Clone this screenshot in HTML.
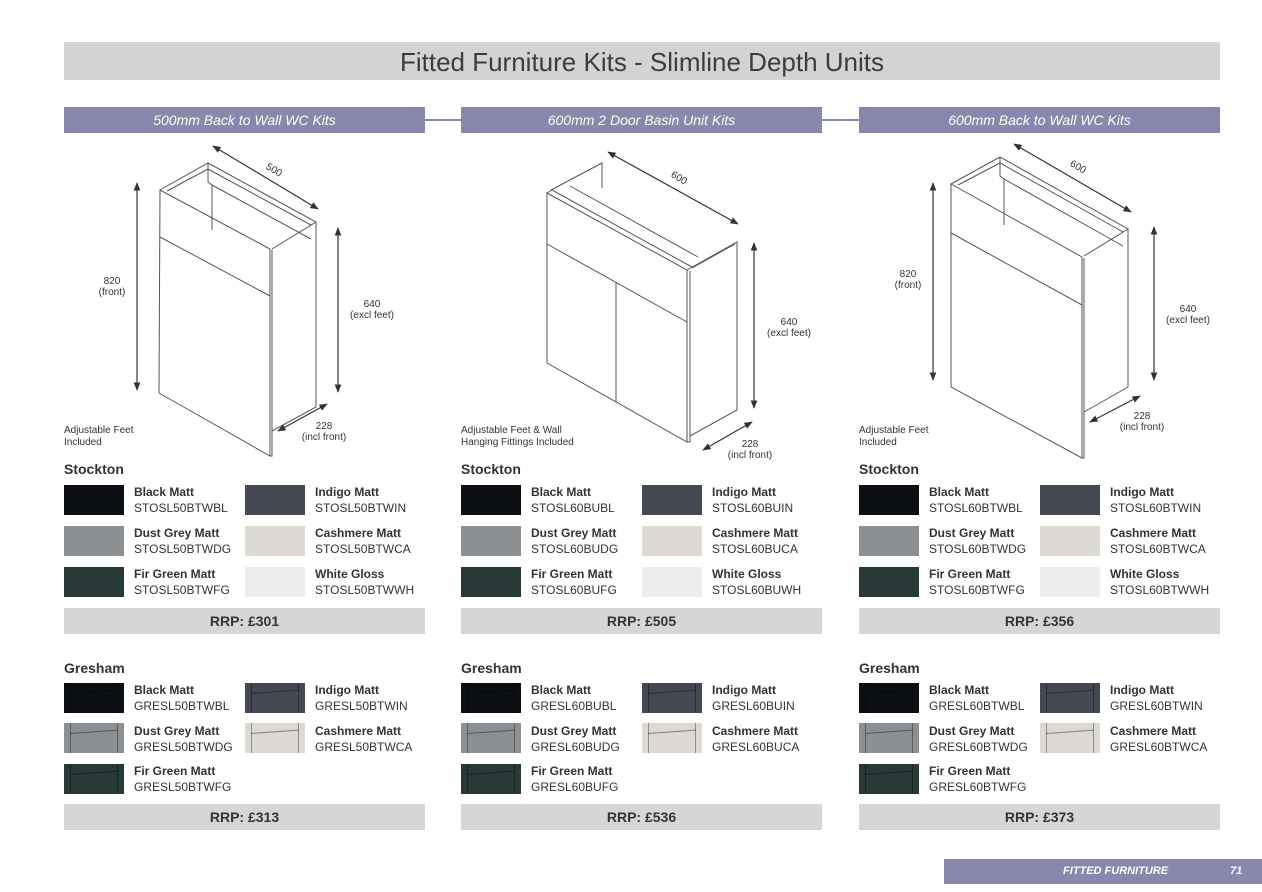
<!DOCTYPE html>
<html><head><meta charset="utf-8">
<style>
*{margin:0;padding:0;box-sizing:border-box}
body{width:1262px;height:892px;background:#fff;position:relative;overflow:hidden;font-family:"Liberation Sans",Arial,sans-serif;color:#333}
.abs{position:absolute}
.title{left:64px;top:42px;width:1156px;height:38px;background:#d2d3d5;font-size:26px;color:#3c3c3c;text-align:center;line-height:40px}
.hdr{top:107px;width:361px;height:26px;background:#8788ab;color:#fff;font-style:italic;font-size:14px;text-align:center;line-height:27px}
.conn{top:119px;height:2px;background:#8788ab}
.sec{font-weight:bold;font-size:14px;color:#333}
.sw{width:60px;height:30px;overflow:hidden}
.nm{font-size:12px;line-height:16px;color:#333;white-space:nowrap}
.nm b{display:block}
.rrp{width:361px;height:26px;background:#d5d6d8;font-weight:bold;font-size:14px;text-align:center;line-height:26px;color:#333}
.note{font-size:10px;line-height:12px;color:#333;white-space:nowrap}
.dim{font-size:10px;line-height:11px;text-align:center;color:#333;white-space:nowrap}
.gr:before{content:"";position:absolute;left:6px;top:0;width:1px;height:30px;background:rgba(0,0,0,.35)}
.gr:after{content:"";position:absolute;left:6px;top:10px;width:48px;height:1px;background:rgba(0,0,0,.4);transform:rotate(-4deg);transform-origin:0 0}
.gr i{position:absolute;right:6px;top:0;width:1px;height:30px;background:rgba(0,0,0,.35)}
.foot{left:944px;top:859px;width:318px;height:25px;background:#8788ab;color:#fff;font-style:italic;font-weight:bold;font-size:11px;line-height:25px}
</style></head><body>

<div class="abs title">Fitted Furniture Kits - Slimline Depth Units</div>

<div class="abs hdr" style="left:64px">500mm Back to Wall WC Kits</div>
<div class="abs hdr" style="left:461px">600mm 2 Door Basin Unit Kits</div>
<div class="abs hdr" style="left:859px">600mm Back to Wall WC Kits</div>
<div class="abs conn" style="left:425px;width:36px"></div>
<div class="abs conn" style="left:822px;width:37px"></div>

<svg class="abs" style="left:0;top:0" width="1262" height="892" viewBox="0 0 1262 892">
<defs>
<marker id="ah" viewBox="0 0 10 10" refX="9" refY="5" markerWidth="7" markerHeight="7" orient="auto-start-reverse"><path d="M0,1 L10,5 L0,9 z" fill="#333"/></marker>
</defs>
<g fill="none" stroke="#555" stroke-width="1">
<path d="M160,190 L270,249 L270,456 L159,393 Z"/>
<path d="M272,250 L272,456 L270,456"/>
<path d="M160,237 L270,296"/>
<path d="M160,190 L208,163 L316,222 L272,249"/>
<path d="M167,191 L208,169 L311,225"/>
<path d="M208,163 L208,182 L212,185 L212,230"/>
<path d="M212,185 L311,239"/>
<path d="M316,222 L316,407 L272,431"/>
<path d="M951,184 L1082,257 L1082,458 L951,387 Z"/>
<path d="M1084,258 L1084,458 L1082,458"/>
<path d="M951,233 L1082,305"/>
<path d="M951,184 L1000,157 L1128,229 L1084,256"/>
<path d="M958,185 L1000,163 L1123,232"/>
<path d="M1000,157 L1000,176 L1004,179 L1004,225"/>
<path d="M1004,179 L1123,246"/>
<path d="M1128,229 L1128,387 L1084,412"/>
<path d="M547,193 L687,270 L687,442 L547,363 Z"/>
<path d="M690,271 L690,442 L687,442"/>
<path d="M547,244 L687,322"/>
<path d="M616,283 L616,402"/>
<path d="M547,193 L552,190 L692,267"/>
<path d="M551,190 L602,163 L602,188"/>
<path d="M570,186 L698,257"/>
<path d="M687,270 L737,242 L737,410 L690,436"/>
<path d="M692,268 L735,244"/>
</g>
<g stroke="#333" stroke-width="1.2" marker-start="url(#ah)" marker-end="url(#ah)" fill="none">
<line x1="137" y1="183" x2="137" y2="390"/>
<line x1="338" y1="228" x2="338" y2="392"/>
<line x1="213" y1="146" x2="318" y2="209"/>
<line x1="278" y1="431" x2="327" y2="404"/>
<line x1="933" y1="183" x2="933" y2="380"/>
<line x1="1154" y1="227" x2="1154" y2="380"/>
<line x1="1014" y1="144" x2="1131" y2="212"/>
<line x1="1090" y1="422" x2="1140" y2="396"/>
<line x1="608" y1="152" x2="738" y2="224"/>
<line x1="754" y1="243" x2="754" y2="408"/>
<line x1="703" y1="450" x2="752" y2="422"/>
</g>
<g font-family="Liberation Sans, Arial, sans-serif" font-size="10" fill="#333" text-anchor="middle">
<text x="274" y="173" transform="rotate(30 274 170)">500</text>
<text x="679" y="181" transform="rotate(30 679 178)">600</text>
<text x="1078" y="170" transform="rotate(30 1078 167)">600</text>
</g>
</svg>

<div class="abs dim" style="left:82px;top:276px;width:60px">820<br>(front)</div>
<div class="abs dim" style="left:340px;top:299px;width:64px">640<br>(excl feet)</div>
<div class="abs dim" style="left:292px;top:421px;width:64px">228<br>(incl front)</div>
<div class="abs note" style="left:64px;top:425px">Adjustable Feet<br>Included</div>

<div class="abs dim" style="left:757px;top:317px;width:64px">640<br>(excl feet)</div>
<div class="abs dim" style="left:718px;top:439px;width:64px">228<br>(incl front)</div>
<div class="abs note" style="left:461px;top:425px">Adjustable Feet &amp; Wall<br>Hanging Fittings Included</div>

<div class="abs dim" style="left:878px;top:269px;width:60px">820<br>(front)</div>
<div class="abs dim" style="left:1156px;top:304px;width:64px">640<br>(excl feet)</div>
<div class="abs dim" style="left:1110px;top:411px;width:64px">228<br>(incl front)</div>
<div class="abs note" style="left:859px;top:425px">Adjustable Feet<br>Included</div>

<div class="abs" style="left:64px;top:0">
<div class="abs sec" style="left:0;top:461px">Stockton</div>
<div class="abs sw" style="left:0;top:485px;background:#0c0f13"></div>
<div class="abs nm" style="left:70px;top:484px"><b>Black Matt</b>STOSL50BTWBL</div>
<div class="abs sw" style="left:181px;top:485px;background:#434852"></div>
<div class="abs nm" style="left:251px;top:484px"><b>Indigo Matt</b>STOSL50BTWIN</div>
<div class="abs sw" style="left:0;top:526px;background:#8d9092"></div>
<div class="abs nm" style="left:70px;top:525px"><b>Dust Grey Matt</b>STOSL50BTWDG</div>
<div class="abs sw" style="left:181px;top:526px;background:#dcd8d3"></div>
<div class="abs nm" style="left:251px;top:525px"><b>Cashmere Matt</b>STOSL50BTWCA</div>
<div class="abs sw" style="left:0;top:567px;background:#283a37"></div>
<div class="abs nm" style="left:70px;top:566px"><b>Fir Green Matt</b>STOSL50BTWFG</div>
<div class="abs sw" style="left:181px;top:567px;background:#ececec"></div>
<div class="abs nm" style="left:251px;top:566px"><b>White Gloss</b>STOSL50BTWWH</div>
<div class="abs rrp" style="left:0;top:608px">RRP: £301</div>
<div class="abs sec" style="left:0;top:660px">Gresham</div>
<div class="abs sw gr" style="left:0;top:683px;background:#0c0f13"><i></i></div>
<div class="abs nm" style="left:70px;top:682px"><b>Black Matt</b>GRESL50BTWBL</div>
<div class="abs sw gr" style="left:181px;top:683px;background:#434852"><i></i></div>
<div class="abs nm" style="left:251px;top:682px"><b>Indigo Matt</b>GRESL50BTWIN</div>
<div class="abs sw gr" style="left:0;top:723px;background:#8d9092"><i></i></div>
<div class="abs nm" style="left:70px;top:723px"><b>Dust Grey Matt</b>GRESL50BTWDG</div>
<div class="abs sw gr" style="left:181px;top:723px;background:#dcd8d3"><i></i></div>
<div class="abs nm" style="left:251px;top:723px"><b>Cashmere Matt</b>GRESL50BTWCA</div>
<div class="abs sw gr" style="left:0;top:764px;background:#283a37"><i></i></div>
<div class="abs nm" style="left:70px;top:763px"><b>Fir Green Matt</b>GRESL50BTWFG</div>
<div class="abs rrp" style="left:0;top:804px">RRP: £313</div>
</div>

<div class="abs" style="left:461px;top:0">
<div class="abs sec" style="left:0;top:461px">Stockton</div>
<div class="abs sw" style="left:0;top:485px;background:#0c0f13"></div>
<div class="abs nm" style="left:70px;top:484px"><b>Black Matt</b>STOSL60BUBL</div>
<div class="abs sw" style="left:181px;top:485px;background:#434852"></div>
<div class="abs nm" style="left:251px;top:484px"><b>Indigo Matt</b>STOSL60BUIN</div>
<div class="abs sw" style="left:0;top:526px;background:#8d9092"></div>
<div class="abs nm" style="left:70px;top:525px"><b>Dust Grey Matt</b>STOSL60BUDG</div>
<div class="abs sw" style="left:181px;top:526px;background:#dcd8d3"></div>
<div class="abs nm" style="left:251px;top:525px"><b>Cashmere Matt</b>STOSL60BUCA</div>
<div class="abs sw" style="left:0;top:567px;background:#283a37"></div>
<div class="abs nm" style="left:70px;top:566px"><b>Fir Green Matt</b>STOSL60BUFG</div>
<div class="abs sw" style="left:181px;top:567px;background:#ececec"></div>
<div class="abs nm" style="left:251px;top:566px"><b>White Gloss</b>STOSL60BUWH</div>
<div class="abs rrp" style="left:0;top:608px">RRP: £505</div>
<div class="abs sec" style="left:0;top:660px">Gresham</div>
<div class="abs sw gr" style="left:0;top:683px;background:#0c0f13"><i></i></div>
<div class="abs nm" style="left:70px;top:682px"><b>Black Matt</b>GRESL60BUBL</div>
<div class="abs sw gr" style="left:181px;top:683px;background:#434852"><i></i></div>
<div class="abs nm" style="left:251px;top:682px"><b>Indigo Matt</b>GRESL60BUIN</div>
<div class="abs sw gr" style="left:0;top:723px;background:#8d9092"><i></i></div>
<div class="abs nm" style="left:70px;top:723px"><b>Dust Grey Matt</b>GRESL60BUDG</div>
<div class="abs sw gr" style="left:181px;top:723px;background:#dcd8d3"><i></i></div>
<div class="abs nm" style="left:251px;top:723px"><b>Cashmere Matt</b>GRESL60BUCA</div>
<div class="abs sw gr" style="left:0;top:764px;background:#283a37"><i></i></div>
<div class="abs nm" style="left:70px;top:763px"><b>Fir Green Matt</b>GRESL60BUFG</div>
<div class="abs rrp" style="left:0;top:804px">RRP: £536</div>
</div>

<div class="abs" style="left:859px;top:0">
<div class="abs sec" style="left:0;top:461px">Stockton</div>
<div class="abs sw" style="left:0;top:485px;background:#0c0f13"></div>
<div class="abs nm" style="left:70px;top:484px"><b>Black Matt</b>STOSL60BTWBL</div>
<div class="abs sw" style="left:181px;top:485px;background:#434852"></div>
<div class="abs nm" style="left:251px;top:484px"><b>Indigo Matt</b>STOSL60BTWIN</div>
<div class="abs sw" style="left:0;top:526px;background:#8d9092"></div>
<div class="abs nm" style="left:70px;top:525px"><b>Dust Grey Matt</b>STOSL60BTWDG</div>
<div class="abs sw" style="left:181px;top:526px;background:#dcd8d3"></div>
<div class="abs nm" style="left:251px;top:525px"><b>Cashmere Matt</b>STOSL60BTWCA</div>
<div class="abs sw" style="left:0;top:567px;background:#283a37"></div>
<div class="abs nm" style="left:70px;top:566px"><b>Fir Green Matt</b>STOSL60BTWFG</div>
<div class="abs sw" style="left:181px;top:567px;background:#ececec"></div>
<div class="abs nm" style="left:251px;top:566px"><b>White Gloss</b>STOSL60BTWWH</div>
<div class="abs rrp" style="left:0;top:608px">RRP: £356</div>
<div class="abs sec" style="left:0;top:660px">Gresham</div>
<div class="abs sw gr" style="left:0;top:683px;background:#0c0f13"><i></i></div>
<div class="abs nm" style="left:70px;top:682px"><b>Black Matt</b>GRESL60BTWBL</div>
<div class="abs sw gr" style="left:181px;top:683px;background:#434852"><i></i></div>
<div class="abs nm" style="left:251px;top:682px"><b>Indigo Matt</b>GRESL60BTWIN</div>
<div class="abs sw gr" style="left:0;top:723px;background:#8d9092"><i></i></div>
<div class="abs nm" style="left:70px;top:723px"><b>Dust Grey Matt</b>GRESL60BTWDG</div>
<div class="abs sw gr" style="left:181px;top:723px;background:#dcd8d3"><i></i></div>
<div class="abs nm" style="left:251px;top:723px"><b>Cashmere Matt</b>GRESL60BTWCA</div>
<div class="abs sw gr" style="left:0;top:764px;background:#283a37"><i></i></div>
<div class="abs nm" style="left:70px;top:763px"><b>Fir Green Matt</b>GRESL60BTWFG</div>
<div class="abs rrp" style="left:0;top:804px">RRP: £373</div>
</div>

<div class="abs foot"><span class="abs" style="left:119px">FITTED FURNITURE</span><span class="abs" style="left:286px">71</span></div>
</body></html>
